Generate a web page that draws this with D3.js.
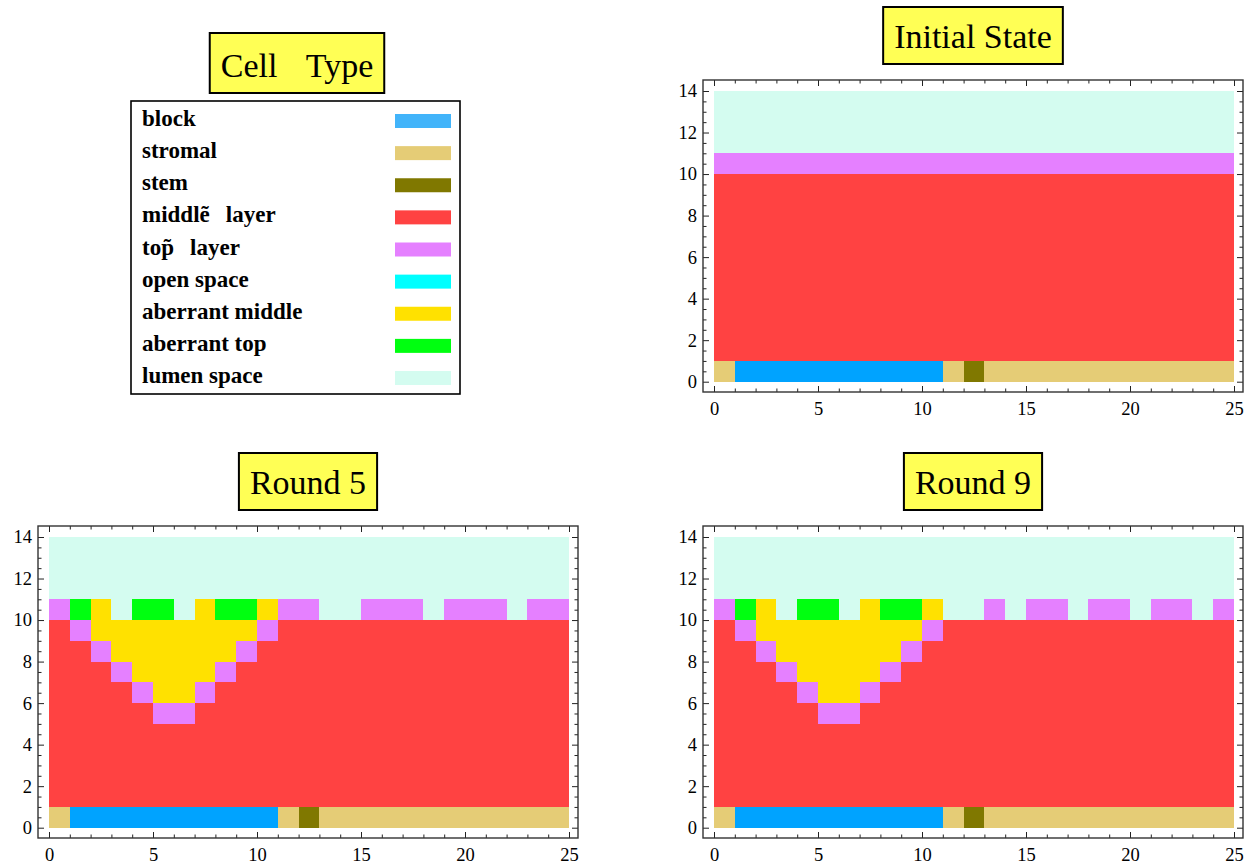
<!DOCTYPE html>
<html>
<head>
<meta charset="utf-8">
<script src="https://cdn.jsdelivr.net/npm/d3@7"></script>
<style>
  body { margin: 0; background: #fff; }
  svg { display: block; font-family: "Liberation Serif", "Times New Roman", serif; }
</style>
</head>
<body>
<div id="chart"></div>
<script>
// cell types, in legend order
const cellCodes = ["B", "S", "T", "M", "P", "O", "A", "G", "L"];
const cellNames = ["block", "stromal", "stem", "middle\u0303\u2002\u2009layer", "top\u0303\u2002\u2009layer",
  "open space", "aberrant middle", "aberrant top", "lumen space"];
const legendColors = ["#42b4fa", "#e5cc76", "#807800", "#ff4242", "#e580ff", "#00ffff", "#ffe100", "#00ff10", "#d4fcf0"];
// the block cells show a deeper blue in the plots than in the legend
const cellColors = ["#00a3ff", "#e5cc76", "#807800", "#ff4242", "#e580ff", "#00ffff", "#ffe100", "#00ff10", "#d4fcf0"];

// grids: one string per row, top row (y 13..14) first, one letter per column 0..24
const initialGrid = [
  "LLLLLLLLLLLLLLLLLLLLLLLLL",
  "LLLLLLLLLLLLLLLLLLLLLLLLL",
  "LLLLLLLLLLLLLLLLLLLLLLLLL",
  "PPPPPPPPPPPPPPPPPPPPPPPPP",
  "MMMMMMMMMMMMMMMMMMMMMMMMM",
  "MMMMMMMMMMMMMMMMMMMMMMMMM",
  "MMMMMMMMMMMMMMMMMMMMMMMMM",
  "MMMMMMMMMMMMMMMMMMMMMMMMM",
  "MMMMMMMMMMMMMMMMMMMMMMMMM",
  "MMMMMMMMMMMMMMMMMMMMMMMMM",
  "MMMMMMMMMMMMMMMMMMMMMMMMM",
  "MMMMMMMMMMMMMMMMMMMMMMMMM",
  "MMMMMMMMMMMMMMMMMMMMMMMMM",
  "SBBBBBBBBBBSTSSSSSSSSSSSS"
];
const round5Grid = [
  "LLLLLLLLLLLLLLLLLLLLLLLLL",
  "LLLLLLLLLLLLLLLLLLLLLLLLL",
  "LLLLLLLLLLLLLLLLLLLLLLLLL",
  "PGALGGLAGGAPPLLPPPLPPPLPP",
  "MPAAAAAAAAPMMMMMMMMMMMMMM",
  "MMPAAAAAAPMMMMMMMMMMMMMMM",
  "MMMPAAAAPMMMMMMMMMMMMMMMM",
  "MMMMPAAPMMMMMMMMMMMMMMMMM",
  "MMMMMPPMMMMMMMMMMMMMMMMMM",
  "MMMMMMMMMMMMMMMMMMMMMMMMM",
  "MMMMMMMMMMMMMMMMMMMMMMMMM",
  "MMMMMMMMMMMMMMMMMMMMMMMMM",
  "MMMMMMMMMMMMMMMMMMMMMMMMM",
  "SBBBBBBBBBBSTSSSSSSSSSSSS"
];
const round9Grid = [
  "LLLLLLLLLLLLLLLLLLLLLLLLL",
  "LLLLLLLLLLLLLLLLLLLLLLLLL",
  "LLLLLLLLLLLLLLLLLLLLLLLLL",
  "PGALGGLAGGALLPLPPLPPLPPLP",
  "MPAAAAAAAAPMMMMMMMMMMMMMM",
  "MMPAAAAAAPMMMMMMMMMMMMMMM",
  "MMMPAAAAPMMMMMMMMMMMMMMMM",
  "MMMMPAAPMMMMMMMMMMMMMMMMM",
  "MMMMMPPMMMMMMMMMMMMMMMMMM",
  "MMMMMMMMMMMMMMMMMMMMMMMMM",
  "MMMMMMMMMMMMMMMMMMMMMMMMM",
  "MMMMMMMMMMMMMMMMMMMMMMMMM",
  "MMMMMMMMMMMMMMMMMMMMMMMMM",
  "SBBBBBBBBBBSTSSSSSSSSSSSS"
];

const panelTitles = ["Initial State", "Round 5", "Round 9"];
const panelGrids = [initialGrid, round5Grid, round9Grid];
const xMajorTicks = [0, 5, 10, 15, 20, 25];
const yMajorTicks = [0, 2, 4, 6, 8, 10, 12, 14];
const legendTitle = "Cell\u2002\u2004Type";

const W = 1248, H = 867;
const frameW = 540, frameH = 312;
const panelPos = [[703, 80], [38, 526], [703, 526]];

const svg = d3.select("#chart").append("svg")
  .attr("width", W)
  .attr("height", H);

const x = d3.scaleLinear().domain([0, 25]).range([11, 531]);
const y = d3.scaleLinear().domain([0, 14]).range([301.7, 11]);
const fill = d3.scaleOrdinal().domain(cellCodes).range(cellColors);

const xMinor = d3.range(0, 26).filter(d => d % 5 != 0);
const yMinor = d3.range(0, 14.5, 0.5).filter(d => d % 2 != 0);

function titleBox(parent, cx, top, h, label, base) {
  let g = parent.append("g");
  let box = g.append("rect");
  let t = g.append("text")
    .attr("x", cx)
    .attr("y", top + base)
    .attr("text-anchor", "middle")
    .attr("font-size", 34)
    .text(label);
  let bw = t.node().getBBox().width + 22;
  box.attr("x", cx - bw / 2)
    .attr("y", top)
    .attr("width", bw)
    .attr("height", h)
    .attr("fill", "#ffff55")
    .attr("stroke", "#000")
    .attr("stroke-width", 2);
}

panelGrids.forEach((grid, k) => {
  let g = svg.append("g")
    .attr("transform", "translate(" + panelPos[k][0] + "," + panelPos[k][1] + ")");

  let cells = [];
  grid.forEach((rowStr, i) => {
    let row = grid.length - 1 - i;
    rowStr.split("").forEach((code, col) => cells.push({row: row, col: col, code: code}));
  });

  g.append("g")
    .attr("shape-rendering", "crispEdges")
    .selectAll("rect")
    .data(cells)
    .join("rect")
      .attr("x", d => x(d.col))
      .attr("y", d => y(d.row + 1))
      .attr("width", d => x(d.col + 1) - x(d.col))
      .attr("height", d => y(d.row) - y(d.row + 1))
      .attr("fill", d => fill(d.code));

  // frame ticks, pointing inward
  let axes = [
    [d3.axisBottom(x).tickValues(xMajorTicks).tickSize(-6).tickPadding(10), "translate(0," + frameH + ")", true],
    [d3.axisBottom(x).tickValues(xMinor).tickSize(-3.5), "translate(0," + frameH + ")", false],
    [d3.axisTop(x).tickValues(xMajorTicks).tickSize(-6), "translate(0,0)", false],
    [d3.axisTop(x).tickValues(xMinor).tickSize(-3.5), "translate(0,0)", false],
    [d3.axisLeft(y).tickValues(yMajorTicks).tickSize(-6).tickPadding(6), "translate(0,0)", true],
    [d3.axisLeft(y).tickValues(yMinor).tickSize(-3.5), "translate(0,0)", false],
    [d3.axisRight(y).tickValues(yMajorTicks).tickSize(-6), "translate(" + frameW + ",0)", false],
    [d3.axisRight(y).tickValues(yMinor).tickSize(-3.5), "translate(" + frameW + ",0)", false]
  ];
  axes.forEach(([ax, tr, labels]) => {
    if (!labels) ax.tickFormat("");
    let a = g.append("g")
      .attr("transform", tr)
      .call(ax);
    a.select(".domain").remove();
    a.selectAll("line").attr("stroke", "#222").attr("stroke-width", 1);
    a.selectAll("text")
      .attr("font-family", "Liberation Serif, serif")
      .attr("font-size", 18.5)
      .attr("fill", "#000");
  });

  g.append("rect")
    .attr("width", frameW)
    .attr("height", frameH)
    .attr("fill", "none")
    .attr("stroke", "#333")
    .attr("stroke-width", 1.4);

  titleBox(g, frameW / 2, -73, 57, panelTitles[k], 41);
});

// legend
let lg = svg.append("g");
titleBox(lg, 297, 33, 60, legendTitle, 44);

lg.append("rect")
  .attr("x", 131)
  .attr("y", 101)
  .attr("width", 329)
  .attr("height", 293)
  .attr("fill", "#fff")
  .attr("stroke", "#000")
  .attr("stroke-width", 1.6);

const ly = d3.scalePoint().domain(cellNames).range([126, 383]);

let rows = lg.selectAll("g.item")
  .data(cellNames)
  .join("g")
    .attr("class", "item")
    .attr("transform", d => "translate(0," + ly(d) + ")");

rows.append("text")
  .attr("x", 142)
  .attr("font-size", 23)
  .attr("font-weight", "bold")
  .text(d => d);

rows.append("rect")
  .attr("x", 395)
  .attr("y", -12)
  .attr("width", 56)
  .attr("height", 14)
  .attr("fill", (d, i) => legendColors[i]);
</script>
</body>
</html>
